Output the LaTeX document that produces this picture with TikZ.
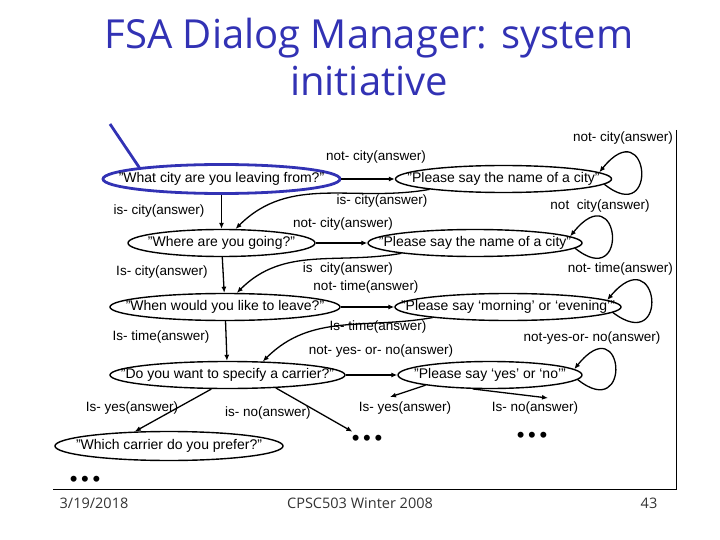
\documentclass[tikz,border=0pt]{standalone}
\usepackage{fontspec}
\setmainfont{Liberation Sans}
\newfontfamily\slidefont{Open Sans}
\usetikzlibrary{shapes.geometric,arrows.meta}
\definecolor{slideblue}{RGB}{50,50,180}
\newcommand{\say}[1]{\makebox[0pt]{#1}}
\tikzset{
	state/.style={ellipse, draw, line width=1.4pt, inner sep=0pt,
		minimum height=27pt, font=\fontsize{14}{16}\selectfont},
	lbl/.style={inner sep=0pt, font=\fontsize{13.5}{15}\selectfont},
	arr/.style={-{Latex[length=6pt,width=5pt]}, line width=1.3pt},
	dots/.style={inner sep=3pt, font=\fontsize{22}{22}\selectfont},
	foot/.style={inner sep=0pt, text=black!80, font=\slidefont\fontsize{14.5}{16}\selectfont}
}
\begin{document}
\begin{tikzpicture}[x=1pt,y=-1pt]
	\useasboundingbox (0,0) rectangle (720,540);
	\node[align=center, text=slideblue, font=\slidefont\fontsize{40}{47}\selectfont] (title) at (369,57) {FSA Dialog Manager: system\\initiative};

	\node[state, draw=slideblue, line width=2.8pt, minimum width=237pt, minimum height=29pt] (leaving) at (221.5,179) {\say{"What city are you leaving from?"}};
	\node[state, minimum width=187pt] (going) at (221.5,243) {\say{"Where are you going?"}};
	\node[state, minimum width=230pt] (leave) at (225,307) {\say{"When would you like to leave?"}};
	\node[state, minimum width=235pt] (carrier) at (227.5,375) {\say{"Do you want to specify a carrier?"}};
	\node[state, minimum width=228pt, minimum height=29pt] (prefer) at (169,446) {\say{"Which carrier do you prefer?"}};

	\node[state, minimum width=216pt] (cityA) at (503.5,179) {\say{"Please say the name of a city"}};
	\node[state, minimum width=214pt] (cityB) at (475,243) {\say{"Please say the name of a city"}};
	\node[state, minimum width=226pt] (time) at (508,307) {\say{"Please say `morning' or `evening'"}};
	\node[state, minimum width=184pt] (yesno) at (490,375) {\say{"Please say `yes' or `no'"}};

	\node[dots] (moreA) at (367,440) {\textbullet\,\textbullet\,\textbullet};
	\node[dots] (moreB) at (532,437) {\textbullet\,\textbullet\,\textbullet};
	\node[dots] (moreC) at (85,481) {\textbullet\,\textbullet\,\textbullet};

	\coordinate (pointer) at (110,124);
	\coordinate (yesEnd) at (390,397);
	\coordinate (noEnd) at (548,398);

	\draw[slideblue, line width=2.8pt] (pointer) -- (leaving.172);

	\draw[arr] (leaving) -- (going);
	\draw[arr] (going) -- (leave);
	\draw[arr] (leave) -- (carrier);
	\draw[arr] (carrier.221) -- (prefer.157);
	\draw[arr] (carrier.-15) -- (moreA);

	\draw[arr] (leaving.east) -- (cityA.west);
	\draw[arr] (going.east) -- (cityB.west);
	\draw[arr] (leave.east) -- (time.west);
	\draw[arr] (carrier.east) -- (yesno.west);

	\draw[arr] (cityA.188) to[out=190, in=45] (going.45);
	\draw[arr] (cityB.188) to[out=190, in=45] (leave.50);
	\draw[arr] (time.188) to[out=190, in=45] (carrier.21);
	\draw[arr] (yesno.189) -- (yesEnd);
	\draw[arr] (yesno.219) -- (noEnd);

	\draw[arr] (cityA.-3) .. controls +(55,44) and +(50,-62) .. (cityA.4);
	\draw[arr] (cityB.-3) .. controls +(55,44) and +(50,-62) .. (cityB.4);
	\draw[arr] (time.-3) .. controls +(58,44) and +(52,-62) .. (time.4);
	\draw[arr] (yesno.-3) .. controls +(55,44) and +(50,-62) .. (yesno.4);

	\node[lbl] (notCityA) at (376,157) {not- city(answer)};
	\node[lbl] (isCityA) at (382,201) {is- city(answer)};
	\node[lbl] (isCityDown) at (159,211) {is- city(answer)};
	\node[lbl, anchor=east] (loopCityA) at (673,138) {not- city(answer)};
	\node[lbl] (loopCityB) at (600,206) {not\ \ city(answer)};
	\node[lbl] (notCityB) at (343,224) {not- city(answer)};
	\node[lbl] (isCityDownB) at (162,272) {Is- city(answer)};
	\node[lbl] (isCityB) at (348,269) {is\ \ city(answer)};
	\node[lbl] (notTime) at (366,287) {not- time(answer)};
	\node[lbl, anchor=east] (loopTime) at (673,269) {not- time(answer)};
	\node[lbl] (isTimeDown) at (161,337) {Is- time(answer)};
	\node[lbl] (isTime) at (378,327) {Is- time(answer)};
	\node[lbl] (notYesNo) at (381,351) {not- yes- or- no(answer)};
	\node[lbl] (loopYesNo) at (592,338) {not-yes-or- no(answer)};
	\node[lbl] (isYesL) at (132,408) {Is- yes(answer)};
	\node[lbl] (isNoL) at (268,413) {is- no(answer)};
	\node[lbl] (isYesR) at (405,408) {Is- yes(answer)};
	\node[lbl] (isNoR) at (535,408) {Is- no(answer)};

	\draw[line width=0.8pt] (676,130) -- (676,489) -- (53,489);

	\node[foot] (date) at (94,503) {3/19/2018};
	\node[foot] (course) at (360,503) {CPSC503 Winter 2008};
	\node[foot] (page) at (649,503) {43};
\end{tikzpicture}
\end{document}
